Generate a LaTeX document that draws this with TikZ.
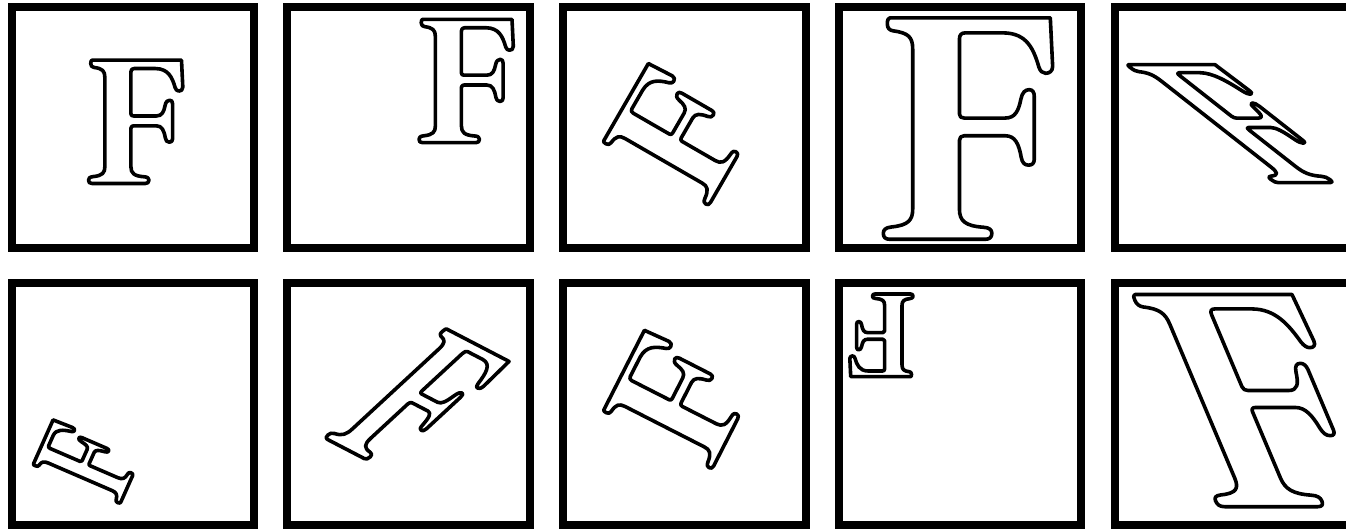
\documentclass[tikz,border=0pt]{standalone}
\tikzset{
  frame/.style={draw=black, line width=8pt},
  glyph/.style={draw=black, line width=3.6pt, line join=round},
}
\begin{document}
\begin{tikzpicture}[x=1pt,y=1pt]
\useasboundingbox (0,0) rectangle (1346,528);
\clip (0,0) rectangle (1346,528);
\fill[white] (0,0) rectangle (1346,528);
% frames
\foreach \col in {0,...,4}{
  \foreach \row in {0,1}{
    \draw[frame] ({11.5+275.75*\col},{279.5-276*\row}) rectangle ++(242.5,241);
  }
}
% transformed letter F outlines
\foreach \ma/\mb/\mc/\md/\mx/\my in {
  0.186/0/0/0.186/88.5/344.5,
  0.186/0/0/0.186/419/385.3,
  0.093/0.161/-0.161/0.093/708.6/322.3,
  0.334/0/0/0.334/883.3/288.7,
  0.181/0/-0.227/0.178/1275/345.3,
  0.041/0.092/-0.132/0.057/120.1/24.3,
  0.130/-0.0675/0.180/0.1664/324.7/90,
  0.0845/0.1657/-0.1657/0.0845/712/58.8,
  -0.1246/0/0/-0.1246/913/234,
  0.327/0/-0.135/0.32/1218/21.3}{
  \begin{scope}[cm={\ma,\mb,\mc,\md,(\mx,\my)}]
    \draw[glyph] (20,663) -- (500,663) -- (507,518)
      .. controls (507,503) and (497,497) .. (486,497)
      .. controls (476,497) and (470,504) .. (466,515)
      .. controls (450,570) and (430,617) .. (360,618)
      -- (245,618)
      .. controls (234,618) and (228,612) .. (228,600)
      -- (228,375)
      .. controls (228,367) and (233,363) .. (242,363)
      -- (365,363)
      .. controls (395,363) and (405,385) .. (412,420)
      .. controls (416,440) and (425,448) .. (437,448)
      .. controls (447,448) and (452,440) .. (452,428)
      -- (452,240)
      .. controls (452,228) and (446,222) .. (435,222)
      .. controls (422,222) and (416,230) .. (413,245)
      .. controls (406,285) and (395,310) .. (365,310)
      -- (242,310)
      .. controls (233,310) and (228,305) .. (228,296)
      -- (228,90)
      .. controls (228,55) and (245,40) .. (300,36)
      .. controls (318,35) and (325,28) .. (325,18)
      .. controls (325,6) and (318,0) .. (305,0)
      -- (20,0)
      .. controls (6,0) and (0,6) .. (0,18)
      .. controls (0,28) and (6,35) .. (25,37)
      .. controls (75,42) and (88,58) .. (88,90)
      -- (88,570)
      .. controls (88,605) and (75,618) .. (30,624)
      .. controls (18,626) and (12,632) .. (12,645)
      .. controls (12,657) and (15,663) .. (20,663)
      -- cycle;
  \end{scope}
}
\end{tikzpicture}
\end{document}
